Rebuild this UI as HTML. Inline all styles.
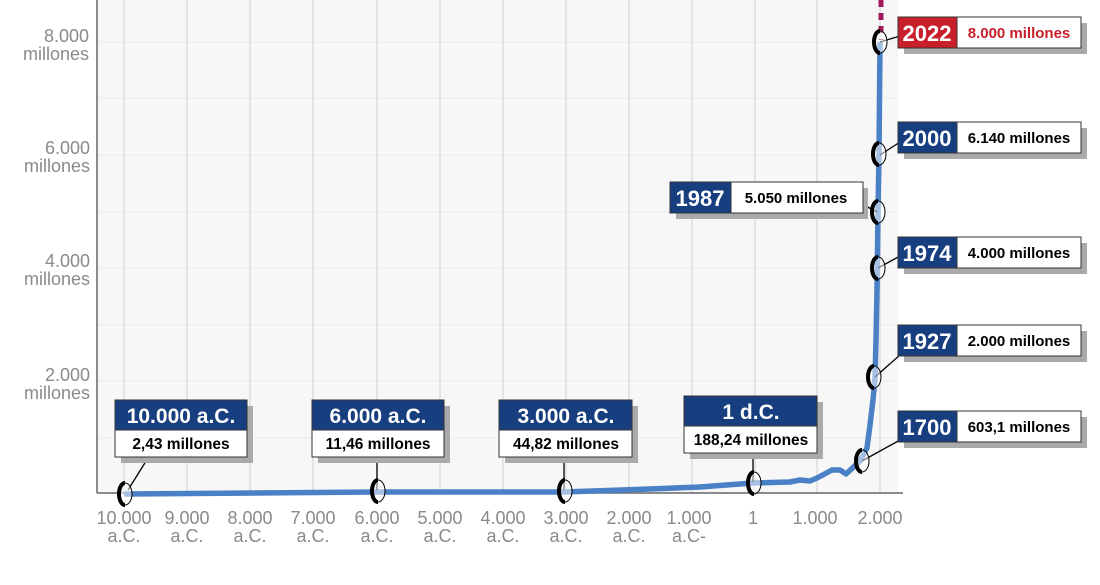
<!DOCTYPE html>
<html><head><meta charset="utf-8"><style>
body{margin:0;width:1100px;height:580px;background:#fff;overflow:hidden;font-family:"Liberation Sans",sans-serif}
</style></head><body>
<svg width="1100" height="580" viewBox="0 0 1100 580" xmlns="http://www.w3.org/2000/svg" font-family="Liberation Sans, sans-serif">
<rect x="97" y="0" width="801" height="493" fill="#f8f7f8"/>
<g stroke="#eceaec" stroke-width="1">
<line x1="97" y1="42" x2="898" y2="42"/><line x1="97" y1="98" x2="898" y2="98"/><line x1="97" y1="155" x2="898" y2="155"/><line x1="97" y1="212" x2="898" y2="212"/><line x1="97" y1="268" x2="898" y2="268"/><line x1="97" y1="325" x2="898" y2="325"/><line x1="97" y1="381" x2="898" y2="381"/><line x1="97" y1="438" x2="898" y2="438"/>
</g>
<g stroke="#dcdbdd" stroke-width="1.5">
<line x1="124" y1="0" x2="124" y2="493"/><line x1="187" y1="0" x2="187" y2="493"/><line x1="250" y1="0" x2="250" y2="493"/><line x1="313" y1="0" x2="313" y2="493"/><line x1="377" y1="0" x2="377" y2="493"/><line x1="440" y1="0" x2="440" y2="493"/><line x1="503" y1="0" x2="503" y2="493"/><line x1="566" y1="0" x2="566" y2="493"/><line x1="629" y1="0" x2="629" y2="493"/><line x1="692" y1="0" x2="692" y2="493"/><line x1="755" y1="0" x2="755" y2="493"/><line x1="817" y1="0" x2="817" y2="493"/><line x1="880" y1="0" x2="880" y2="493"/>
</g>
<line x1="97" y1="0" x2="97" y2="493" stroke="#666" stroke-width="1.5"/>
<line x1="97" y1="493" x2="903" y2="493" stroke="#666" stroke-width="1.5"/>
<g fill="#8a8a8a" font-size="18" text-anchor="end">
<text x="89" y="42">8.000</text><text x="89" y="60">millones</text>
<text x="90" y="154">6.000</text><text x="90" y="172">millones</text>
<text x="90" y="267">4.000</text><text x="90" y="285">millones</text>
<text x="90" y="381">2.000</text><text x="90" y="399">millones</text>
</g>
<g fill="#8a8a8a" font-size="18" text-anchor="middle">
<text x="124" y="524">10.000</text><text x="124" y="542">a.C.</text>
<text x="187" y="524">9.000</text><text x="187" y="542">a.C.</text>
<text x="250" y="524">8.000</text><text x="250" y="542">a.C.</text>
<text x="313" y="524">7.000</text><text x="313" y="542">a.C.</text>
<text x="377" y="524">6.000</text><text x="377" y="542">a.C.</text>
<text x="440" y="524">5.000</text><text x="440" y="542">a.C.</text>
<text x="503" y="524">4.000</text><text x="503" y="542">a.C.</text>
<text x="566" y="524">3.000</text><text x="566" y="542">a.C.</text>
<text x="629" y="524">2.000</text><text x="629" y="542">a.C.</text>
<text x="689" y="524">1.000</text><text x="689" y="542">a.C-</text>
<text x="753" y="524">1</text>
<text x="815" y="524">1.000</text>
<text x="880" y="524">2.000</text>
</g>
<line x1="881" y1="0" x2="881" y2="40" stroke="#a0185a" stroke-width="5" stroke-dasharray="7,6"/>
<polyline fill="none" stroke="#4a80c6" stroke-width="5.5" stroke-linejoin="round" points="124,494 377,492 564,492 650,489 700,487 753,483 790,482 800,480 810,481 817,478 832,470 840,470 846,474 860,461 867,448 870,425 873,400 875,378 876,340 877,290 878,212 879,155 880,42"/>
<g stroke="#000" stroke-width="1.3">
<line x1="128" y1="490" x2="148" y2="458"/><line x1="377" y1="457" x2="377" y2="490"/><line x1="564" y1="457" x2="564" y2="490"/><line x1="753" y1="453" x2="753" y2="482"/>
<line x1="880" y1="42" x2="900" y2="36"/><line x1="880" y1="155" x2="900" y2="142"/><line x1="877" y1="212" x2="862" y2="204"/><line x1="878" y1="268" x2="900" y2="256"/><line x1="875" y1="377" x2="900" y2="355"/><line x1="862" y1="461" x2="900" y2="440"/>
</g>
<g fill="#fff" fill-opacity="0.5" stroke="#000" stroke-width="1">
<ellipse cx="125" cy="494" rx="7" ry="11"/><ellipse cx="378" cy="491" rx="7" ry="11"/><ellipse cx="565" cy="491" rx="7" ry="11"/><ellipse cx="754" cy="483" rx="7" ry="11"/><ellipse cx="862" cy="461" rx="7" ry="11"/><ellipse cx="874" cy="377" rx="7" ry="11"/><ellipse cx="878" cy="268" rx="7" ry="11"/><ellipse cx="878" cy="212" rx="7" ry="11"/><ellipse cx="879" cy="154" rx="7" ry="11"/><ellipse cx="880" cy="42" rx="7" ry="11"/>
</g>
<g fill="none" stroke="#000" stroke-width="4">
<path d="M125,483 a6,11 0 0 0 0,22"/><path d="M378,480 a6,11 0 0 0 0,22"/><path d="M565,480 a6,11 0 0 0 0,22"/><path d="M754,472 a6,11 0 0 0 0,22"/><path d="M862,450 a6,11 0 0 0 0,22"/><path d="M874,366 a6,11 0 0 0 0,22"/><path d="M878,257 a6,11 0 0 0 0,22"/><path d="M878,201 a6,11 0 0 0 0,22"/><path d="M879,143 a6,11 0 0 0 0,22"/><path d="M880,31 a6,11 0 0 0 0,22"/>
</g>
<g font-weight="bold" text-anchor="middle">
<rect x="121" y="406" width="132" height="57" fill="#aaa"/>
<rect x="115" y="400" width="132" height="30" fill="#173f80" stroke="#333"/><rect x="115" y="430" width="132" height="27" fill="#fff" stroke="#333"/>
<text x="181" y="423" font-size="21" fill="#fff">10.000 a.C.</text><text x="181" y="449" font-size="15.5">2,43 millones</text>
<rect x="318" y="406" width="132" height="57" fill="#aaa"/>
<rect x="312" y="400" width="132" height="30" fill="#173f80" stroke="#333"/><rect x="312" y="430" width="132" height="27" fill="#fff" stroke="#333"/>
<text x="378" y="423" font-size="21" fill="#fff">6.000 a.C.</text><text x="378" y="449" font-size="15.5">11,46 millones</text>
<rect x="505" y="406" width="133" height="57" fill="#aaa"/>
<rect x="499" y="400" width="133" height="30" fill="#173f80" stroke="#333"/><rect x="499" y="430" width="133" height="27" fill="#fff" stroke="#333"/>
<text x="566" y="423" font-size="21" fill="#fff">3.000 a.C.</text><text x="566" y="449" font-size="15.5">44,82 millones</text>
<rect x="690" y="402" width="133" height="57" fill="#aaa"/>
<rect x="684" y="396" width="133" height="30" fill="#173f80" stroke="#333"/><rect x="684" y="426" width="133" height="27" fill="#fff" stroke="#333"/>
<text x="751" y="419" font-size="21" fill="#fff">1 d.C.</text><text x="751" y="445" font-size="15.5">188,24 millones</text>
</g>
<g font-weight="bold">
<rect x="904" y="23" width="183" height="31" fill="#aaa"/>
<rect x="898" y="17" width="59" height="31" fill="#c8202a" stroke="#333"/><rect x="957" y="17" width="124" height="31" fill="#fff" stroke="#333"/>
<text x="927" y="41" font-size="22" fill="#fff" text-anchor="middle">2022</text><text x="1019" y="38" font-size="15" fill="#c8202a" text-anchor="middle">8.000 millones</text>
<rect x="904" y="128" width="183" height="31" fill="#aaa"/>
<rect x="898" y="122" width="59" height="31" fill="#173f80" stroke="#333"/><rect x="957" y="122" width="124" height="31" fill="#fff" stroke="#333"/>
<text x="927" y="146" font-size="22" fill="#fff" text-anchor="middle">2000</text><text x="1019" y="143" font-size="15" text-anchor="middle">6.140 millones</text>
<rect x="676" y="188" width="192" height="31" fill="#aaa"/>
<rect x="670" y="182" width="61" height="31" fill="#173f80" stroke="#333"/><rect x="731" y="182" width="132" height="31" fill="#fff" stroke="#333"/>
<text x="700" y="206" font-size="22" fill="#fff" text-anchor="middle">1987</text><text x="796" y="203" font-size="15" text-anchor="middle">5.050 millones</text>
<rect x="904" y="243" width="183" height="31" fill="#aaa"/>
<rect x="898" y="237" width="59" height="31" fill="#173f80" stroke="#333"/><rect x="957" y="237" width="124" height="31" fill="#fff" stroke="#333"/>
<text x="927" y="261" font-size="22" fill="#fff" text-anchor="middle">1974</text><text x="1019" y="258" font-size="15" text-anchor="middle">4.000 millones</text>
<rect x="904" y="331" width="183" height="31" fill="#aaa"/>
<rect x="898" y="325" width="59" height="31" fill="#173f80" stroke="#333"/><rect x="957" y="325" width="124" height="31" fill="#fff" stroke="#333"/>
<text x="927" y="349" font-size="22" fill="#fff" text-anchor="middle">1927</text><text x="1019" y="346" font-size="15" text-anchor="middle">2.000 millones</text>
<rect x="904" y="417" width="183" height="31" fill="#aaa"/>
<rect x="898" y="411" width="59" height="31" fill="#173f80" stroke="#333"/><rect x="957" y="411" width="124" height="31" fill="#fff" stroke="#333"/>
<text x="927" y="435" font-size="22" fill="#fff" text-anchor="middle">1700</text><text x="1019" y="432" font-size="15" text-anchor="middle">603,1 millones</text>
</g>
</svg>
</body></html>
